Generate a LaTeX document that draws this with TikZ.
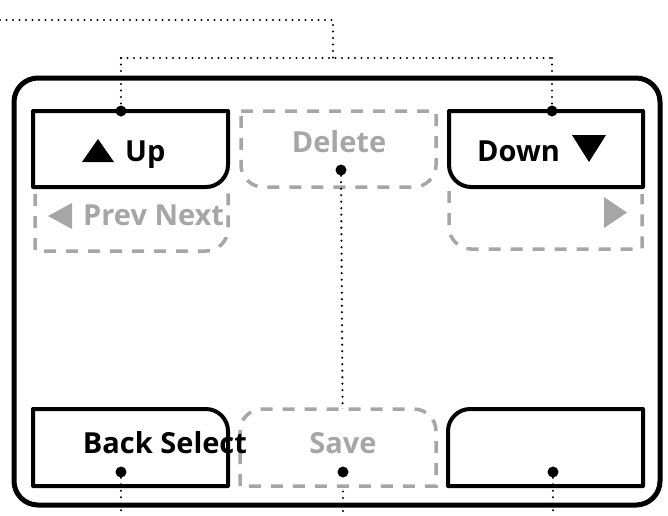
\documentclass[tikz,border=0pt]{standalone}
\usepackage{fontspec}
\setmainfont{Open Sans}
\begin{document}
\begin{tikzpicture}[x=1pt,y=-1pt,
  frame/.style={line width=5pt,rounded corners=24pt},
  btn/.style={line width=4pt,line join=round},
  ghost/.style={line width=3.5pt,draw=ghostgray,dash pattern=on 12pt off 10pt},
  dotline/.style={line width=2.4pt,dash pattern=on 0pt off 6.5pt,line cap=round},
  pin/.style={circle,fill=black,inner sep=0pt,minimum size=11pt},
  lbl/.style={font=\bfseries\fontsize{29}{30}\selectfont,inner sep=0pt},
  glbl/.style={lbl,text=ghostgray},
  tri/.style={fill=black},
  gtri/.style={fill=ghostgray}]
\definecolor{ghostgray}{HTML}{A6A6A6}
\useasboundingbox (0,0) rectangle (668,515);
% outer frame
\draw[frame] (14,78) rectangle (660,505);
% ghost (dashed) boxes
\draw[ghost,fill=white] (241,111) -- (436,111) -- (436,165) .. controls (436,177) and (426,187) .. (414,187) -- (263,187) .. controls (251,187) and (241,177) .. (241,165) -- cycle;
\draw[ghost] (35,194) -- (35,251) -- (206,251) .. controls (218,251) and (228,241) .. (228,229) -- (228,191);
\draw[ghost] (449,191) -- (449,227) .. controls (449,239) and (459,249) .. (471,249) -- (642,249) -- (642,194);
% solid buttons
\draw[btn,fill=white] (33,111) -- (228,111) -- (228,165) .. controls (228,177) and (218,187) .. (206,187) -- (33,187) -- cycle;
\draw[btn,fill=white] (449,111) -- (643,111) -- (643,187) -- (471,187) .. controls (459,187) and (449,177) .. (449,165) -- cycle;
\draw[btn,fill=white] (33,409) -- (206,409) .. controls (218,409) and (228,419) .. (228,431) -- (228,486) -- (33,486) -- cycle;
\draw[btn,fill=white] (470,409) -- (643,409) -- (643,486) -- (448,486) -- (448,431) .. controls (448,419) and (458,409) .. (470,409) -- cycle;
% pins
\node[pin] (pup) at (121,111) {};
\node[pin] (pdown) at (552,111) {};
\node[pin] (pdel) at (341,170) {};
\node[pin] (pback) at (121,472) {};
\node[pin] (pright) at (553,472) {};
% connector coordinates
\coordinate (tl) at (0,20);
\coordinate (tm) at (333,20);
\coordinate (jm) at (333,58);
\coordinate (jl) at (121,58);
\coordinate (jr) at (552,58);
\coordinate (bback) at (121,515);
\coordinate (bsave) at (343,515);
\coordinate (bright) at (553,515);
\coordinate (savec) at (343,472);
% dotted connectors
\draw[dotline] (tl) -- (tm) -- (jm);
\draw[dotline] (jl) -- (jr);
\draw[dotline] (jl) -- (pup);
\draw[dotline] (jr) -- (pdown);
\draw[dotline] (pdel) -- (savec);
\draw[dotline] (pback) -- (bback);
\draw[dotline] (savec) -- (bsave);
\draw[dotline] (pright) -- (bright);
% save ghost box covers the connector inside it
\draw[ghost,fill=white] (240,486) -- (240,431) .. controls (240,419) and (250,409) .. (262,409) -- (414,409) .. controls (426,409) and (436,419) .. (436,431) -- (436,486) -- cycle;
\node[pin] (psave) at (savec) {};
% triangles
\fill[tri] (82,162) -- (114,162) -- (98,139) -- cycle;
\fill[tri] (572,135) -- (606,135) -- (589,162) -- cycle;
\fill[gtri] (72,203) -- (72,229) -- (48,216) -- cycle;
\fill[gtri] (604,197) -- (604,228) -- (627,212.5) -- cycle;
% labels
\node[lbl,anchor=base west] (tup) at (125,161) {Up};
\node[lbl,anchor=base west] (tdown) at (477,161) {Down};
\node[glbl,anchor=base] (tdel) at (339,152) {Delete};
\node[glbl,anchor=base west] (tprev) at (83,225) {Prev Next};
\node[lbl,anchor=base] (tback) at (165,453) {Back Select};
\node[glbl,anchor=base] (tsave) at (343,453) {Save};
\end{tikzpicture}
\end{document}
